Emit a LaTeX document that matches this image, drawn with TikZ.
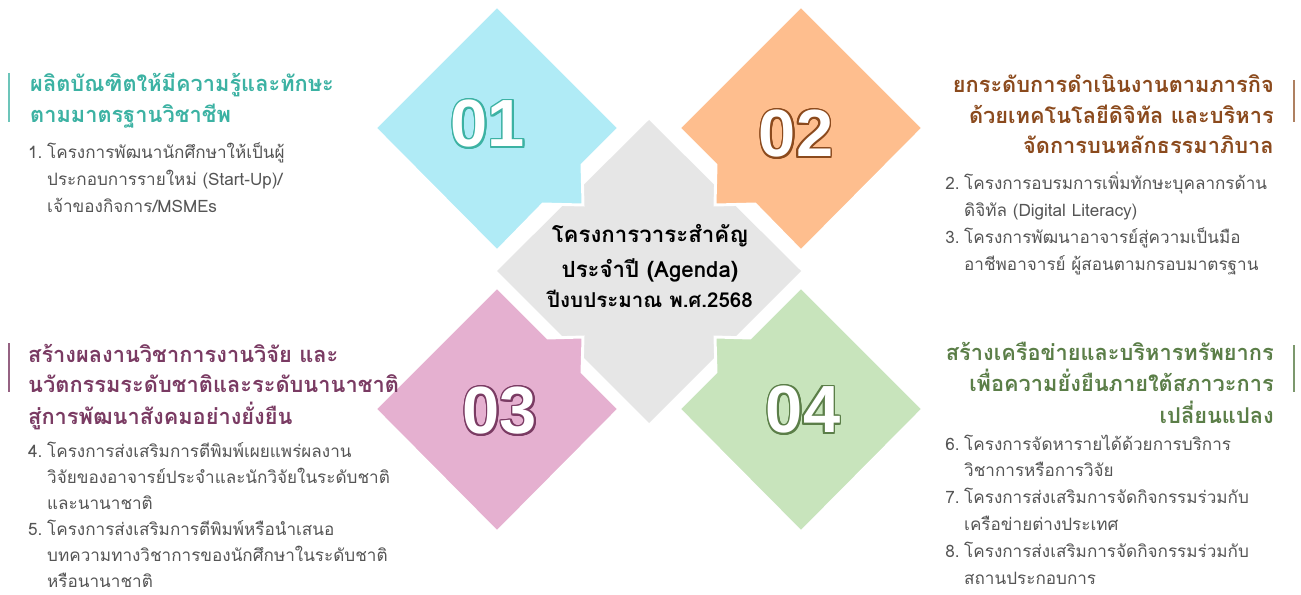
\documentclass[tikz,border=0pt]{standalone}
\usepackage{fontspec}
\newfontfamily\thaifont[Script=Thai]{Loma}
\newfontfamily\numfont{Liberation Sans}

\definecolor{blue01}{HTML}{B0EBF6}
\definecolor{peach02}{HTML}{FEBE8E}
\definecolor{pink03}{HTML}{E5B0D0}
\definecolor{green04}{HTML}{C8E4BC}
\definecolor{greymid}{HTML}{E6E6E6}
\definecolor{teal01}{HTML}{3CB2A3}
\definecolor{brown02}{HTML}{8B4A1D}
\definecolor{plum03}{HTML}{7A3B63}
\definecolor{olive04}{HTML}{5B7E48}
\definecolor{bodygrey}{HTML}{555555}

\tikzset{
  petal/.style={draw=white, line width=2.5pt, line join=miter},
  numtxt/.style={font=\numfont\bfseries\fontsize{57}{57}\selectfont, inner sep=0pt},
  headtxt/.style={font=\thaifont\bfseries\fontsize{18.6}{26}\selectfont, inner sep=0pt},
  bodytxt/.style={font=\thaifont\fontsize{14.6}{23}\selectfont, inner sep=0pt, text=bodygrey},
  sidebar/.style={line width=1.6pt},
}

\begin{document}
\begin{tikzpicture}[x=0.03cm,y=-0.03cm]
\useasboundingbox[fill=white] (0,0) rectangle (1301,595);

% centre
\fill[greymid] (649,120) -- (801,271) -- (649,423) -- (497,271) -- cycle;
% 01 top left
\fill[petal, fill=blue01] (497,6) -- (619,128) -- (582,165) -- (583,205) -- (543,204) -- (497,251) -- (375,128) -- cycle;
% 02 top right
\fill[petal, fill=peach02] (801,6) -- (923,128) -- (801,251) -- (755,204) -- (715,205) -- (716,165) -- (679,128) -- cycle;
% 03 bottom left
\fill[petal, fill=pink03] (497,287) -- (548,338) -- (583,337) -- (582,372) -- (619,409) -- (497,532) -- (375,409) -- cycle;
% 04 bottom right
\fill[petal, fill=green04] (801,287) -- (923,409) -- (801,532) -- (679,409) -- (716,372) -- (715,337) -- (750,338) -- cycle;

% numbers, outline first then white face
\foreach \a in {0,20,...,340} {
  \node[numtxt, text=teal01, shift={(\a:1.7)}] (o01-\a) at (488,124) {01};
  \node[numtxt, text=brown02, shift={(\a:1.7)}] (o02-\a) at (796,134) {02};
  \node[numtxt, text=plum03, shift={(\a:1.7)}] (o03-\a) at (500,411) {03};
  \node[numtxt, text=olive04, shift={(\a:1.7)}] (o04-\a) at (803,410) {04};
}
\node[numtxt, text=white] (n01) at (488,124) {01};
\node[numtxt, text=white] (n02) at (796,134) {02};
\node[numtxt, text=white] (n03) at (500,411) {03};
\node[numtxt, text=white] (n04) at (803,410) {04};

% centre text
\node[font=\thaifont\bfseries\fontsize{19}{30}\selectfont, inner sep=0pt, anchor=base] (agenda) at (650,242)
  {\begin{tabular}[t]{@{}c@{}}โครงการวาระสำคัญ\\ประจำปี (Agenda)\\[-4pt]{\fontsize{17.5}{20}\selectfont ปีงบประมาณ พ.ศ.2568}\end{tabular}};

% side bars
\draw[sidebar, teal01!75] (9,73) -- (9,122);
\draw[sidebar, brown02!70] (1294,80) -- (1294,122);
\draw[sidebar, plum03!80] (9,343) -- (9,392);
\draw[sidebar, olive04!80] (1294,345) -- (1294,392);

% 01 text
\node[headtxt, text=teal01, anchor=base west] (h01) at (30,92)
  {\begin{tabular}[t]{@{}l@{}}ผลิตบัณฑิตให้มีความรู้และทักษะ\\ตามมาตรฐานวิชาชีพ\end{tabular}};
\node[bodytxt, anchor=base west] (b01) at (28,159)
  {\begin{tabular}[t]{@{}l@{\hspace{4pt}}l@{}}1. & โครงการพัฒนานักศึกษาให้เป็นผู้\\ & ประกอบการรายใหม่ (Start-Up)/\\ & เจ้าของกิจการ/MSMEs\end{tabular}};

% 02 text
\node[headtxt, text=brown02, anchor=base east] (h02) at (1274,93)
  {\begin{tabular}[t]{@{}r@{}}ยกระดับการดำเนินงานตามภารกิจ\\ด้วยเทคโนโลยีดิจิทัล และบริหาร\\จัดการบนหลักธรรมาภิบาล\end{tabular}};
\node[bodytxt, anchor=base west] (b02) at (945,190)
  {\begin{tabular}[t]{@{}l@{\hspace{4pt}}l@{}}2. & โครงการอบรมการเพิ่มทักษะบุคลากรด้าน\\ & ดิจิทัล (Digital Literacy)\\3. & โครงการพัฒนาอาจารย์สู่ความเป็นมือ\\ & อาชีพอาจารย์ ผู้สอนตามกรอบมาตรฐาน\end{tabular}};

% 03 text
\node[headtxt, text=plum03, anchor=base west] (h03) at (28,362)
  {\begin{tabular}[t]{@{}l@{}}สร้างผลงานวิชาการงานวิจัย และ\\นวัตกรรมระดับชาติและระดับนานาชาติ\\สู่การพัฒนาสังคมอย่างยั่งยืน\end{tabular}};
\node[bodytxt, font=\thaifont\fontsize{14.6}{22.3}\selectfont, anchor=base west] (b03) at (28,457)
  {\begin{tabular}[t]{@{}l@{\hspace{4pt}}l@{}}4. & โครงการส่งเสริมการตีพิมพ์เผยแพร่ผลงาน\\ & วิจัยของอาจารย์ประจำและนักวิจัยในระดับชาติ\\ & และนานาชาติ\\5. & โครงการส่งเสริมการตีพิมพ์หรือนำเสนอ\\ & บทความทางวิชาการของนักศึกษาในระดับชาติ\\ & หรือนานาชาติ\end{tabular}};

% 04 text
\node[headtxt, text=olive04, anchor=base east] (h04) at (1274,360)
  {\begin{tabular}[t]{@{}r@{}}สร้างเครือข่ายและบริหารทรัพยากร\\เพื่อความยั่งยืนภายใต้สภาวะการ\\เปลี่ยนแปลง\end{tabular}};
\node[bodytxt, anchor=base west] (b04) at (945,450)
  {\begin{tabular}[t]{@{}l@{\hspace{4pt}}l@{}}6. & โครงการจัดหารายได้ด้วยการบริการ\\ & วิชาการหรือการวิจัย\\7. & โครงการส่งเสริมการจัดกิจกรรมร่วมกับ\\ & เครือข่ายต่างประเทศ\\8. & โครงการส่งเสริมการจัดกิจกรรมร่วมกับ\\ & สถานประกอบการ\end{tabular}};
\end{tikzpicture}
\end{document}
